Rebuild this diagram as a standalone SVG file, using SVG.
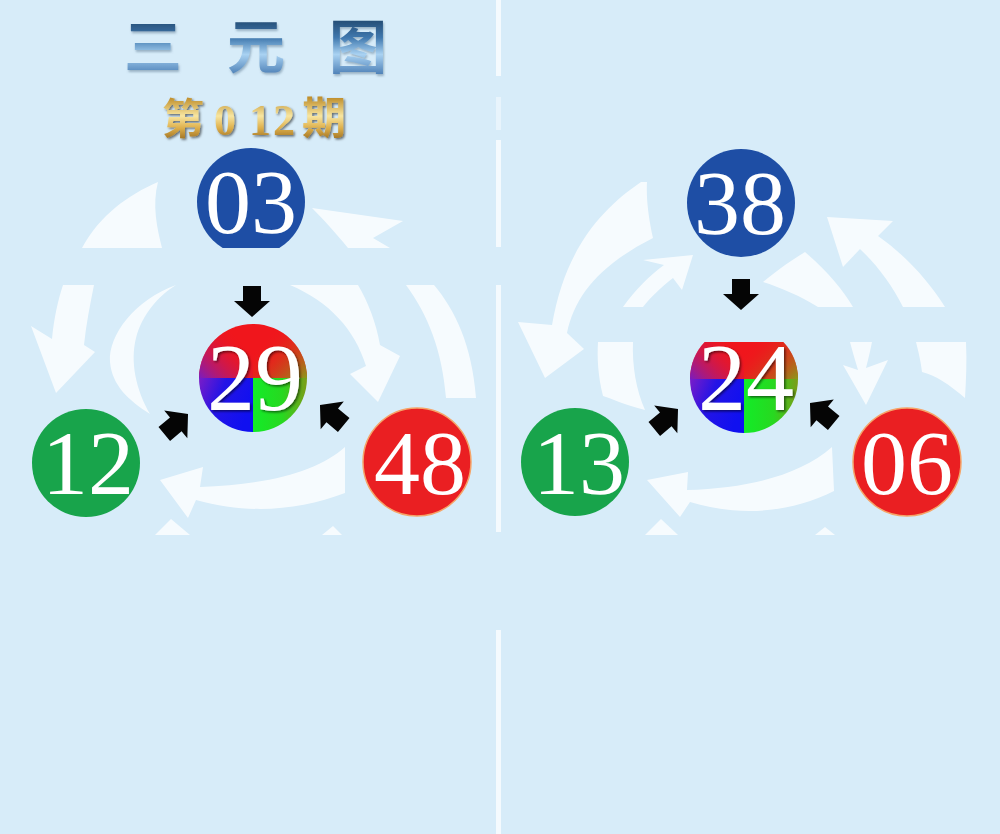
<svg xmlns="http://www.w3.org/2000/svg" width="1000" height="834" viewBox="0 0 1000 834">
<style>
.bg{fill:#d7ecf9}
.sep{fill:#f4fafe}
.wa{fill:#ffffff;opacity:0.78}
.num{font-family:"Liberation Serif","Times New Roman",serif;fill:#ffffff;text-anchor:middle}
.ball{stroke:none}
.blue{fill:#1e4ea5}
.green{fill:#18a44b}
.red{fill:#ea1f22;stroke:#f6a468;stroke-width:1.5}
.blk{fill:#050505}
.title{font-family:"Noto Sans CJK SC","Noto Sans",sans-serif;font-weight:700;font-size:58px;text-anchor:middle;fill:url(#gTitle)}
.issue{font-weight:700;fill:url(#gGold)}
</style>
<defs>
<linearGradient id="gTitle" gradientUnits="userSpaceOnUse" x1="0" y1="18" x2="0" y2="74">
<stop offset="0" stop-color="#22486e"/>
<stop offset="0.35" stop-color="#3f78ae"/>
<stop offset="0.65" stop-color="#a9d2f2"/>
<stop offset="1" stop-color="#4f82b8"/>
</linearGradient>
<linearGradient id="gGold" gradientUnits="userSpaceOnUse" x1="0" y1="98" x2="0" y2="138">
<stop offset="0" stop-color="#c0902e"/>
<stop offset="0.45" stop-color="#f8e6a0"/>
<stop offset="0.75" stop-color="#deb04c"/>
<stop offset="1" stop-color="#a77a28"/>
</linearGradient>
<linearGradient id="gTL" x1="1" y1="0" x2="0" y2="1">
<stop offset="0.25" stop-color="#f0161c" stop-opacity="0"/>
<stop offset="1" stop-color="#7a1cc0"/>
</linearGradient>
<linearGradient id="gTR" x1="0" y1="0" x2="1" y2="1">
<stop offset="0.25" stop-color="#f0161c" stop-opacity="0"/>
<stop offset="1" stop-color="#8a9a1a"/>
</linearGradient>
<linearGradient id="gBL" x1="0" y1="0" x2="1" y2="0.4">
<stop offset="0" stop-color="#7a1cc8"/>
<stop offset="0.45" stop-color="#2414e6"/>
<stop offset="1" stop-color="#1010f0"/>
</linearGradient>
<linearGradient id="gBR" x1="0" y1="0" x2="1" y2="0">
<stop offset="0" stop-color="#12ec28"/>
<stop offset="0.55" stop-color="#28d820"/>
<stop offset="1" stop-color="#7c9c18"/>
</linearGradient>
<filter id="sh" x="-10%" y="-10%" width="130%" height="130%">
<feDropShadow dx="1.5" dy="1.5" stdDeviation="1" flood-color="#000" flood-opacity="0.55"/>
</filter>
<filter id="shT" x="-10%" y="-10%" width="130%" height="130%">
<feDropShadow dx="1" dy="2" stdDeviation="1.2" flood-color="#5a7890" flood-opacity="0.5"/>
</filter>
<clipPath id="cutTop"><rect x="0" y="0" width="497" height="248"/></clipPath>
<clipPath id="cutMidR"><rect x="500" y="342" width="500" height="200"/></clipPath>
<clipPath id="c29"><circle cx="253" cy="378" r="54"/></clipPath>
<clipPath id="c24"><circle cx="744" cy="379" r="54"/></clipPath>
<polygon id="arr" points="-14,-9 1,-9 1,-18 17,0 1,18 1,9 -14,9"/>
</defs>

<rect class="bg" x="0" y="0" width="1000" height="834"/>

<g id="separator">
<rect class="sep" x="496" y="0" width="5" height="76"/>
<rect class="sep" x="496" y="97" width="5" height="33" opacity="0.6"/>
<rect class="sep" x="496" y="140" width="5" height="107"/>
<rect class="sep" x="496" y="285" width="5" height="247"/>
<rect class="sep" x="496" y="630" width="5" height="204"/>
</g>

<g id="background-arrows">
<path class="wa" d="M82 248 C100 215 128 195 158 182 C152 205 157 228 162 248 Z"/>
<path class="wa" d="M312 208 L403 221 L373 238 L390 248 L348 248 C335 232 322 218 312 208 Z"/>
<path class="wa" d="M63 285 L94 285 C90 305 86 325 84 345 L95 352 L56 393 L31 326 L52 339 C54 318 58 300 63 285 Z"/>
<path class="wa" d="M176 285 C135 300 108 335 110 362 C112 385 128 400 150 414 C136 390 130 362 136 338 C142 315 158 296 176 285 Z"/>
<path class="wa" d="M290 285 L358 285 C368 302 376 322 380 345 L400 356 L378 402 L350 374 L366 366 C355 330 330 302 290 285 Z"/>
<path class="wa" d="M406 285 L434 285 C455 310 472 345 476 398 L446 398 C442 350 428 315 406 285 Z"/>
<path class="wa" d="M345 447 C320 470 270 485 200 487 L203 467 L160 480 L188 518 L196 500 C250 515 300 510 345 493 Z"/>
<path class="wa" d="M155 535 L171 519 L190 535 Z"/>
<path class="wa" d="M322 535 L333 526 L342 535 Z"/>

<path class="wa" d="M641 182 C600 210 565 250 552 325 L518 322 L545 378 L584 349 L567 333 C575 295 600 265 653 238 C649 220 646 200 647 182 Z"/>
<path class="wa" d="M623 307 C635 290 650 275 664 265 L643 260 L693 255 L682 290 L673 278 C660 288 650 298 643 307 Z"/>
<path class="wa" d="M827 217 L893 221 L878 236 C905 255 928 280 945 307 L903 307 C892 285 877 265 860 249 L843 267 Z"/>
<path class="wa" d="M763 282 C780 268 795 258 805 252 C828 272 843 290 853 307 L818 307 C800 296 782 288 763 282 Z"/>
<path class="wa" d="M598 342 L633 342 C632 365 636 390 645 410 C625 405 610 398 603 396 C598 376 597 358 598 342 Z"/>
<path class="wa" d="M850 342 L872 342 C870 352 868 360 866 368 L888 360 L866 405 L843 365 L858 370 C855 360 852 350 850 342 Z"/>
<path class="wa" d="M916 342 L966 342 C967 362 966 380 965 398 C950 385 935 375 922 372 C921 362 918 350 916 342 Z"/>
<path class="wa" d="M832 447 C800 475 750 488 687 490 L688 472 L647 480 L680 517 L690 502 C740 517 790 513 834 491 Z"/>
<path class="wa" d="M645 535 L661 519 L678 535 Z"/>
<path class="wa" d="M815 535 L825 527 L835 535 Z"/>
</g>

<g id="title" filter="url(#shT)">
<text class="title" x="153" y="68">三</text>
<text class="title" x="256" y="68">元</text>
<text class="title" x="358" y="68">图</text>
</g>

<g id="issue" filter="url(#sh)">
<text class="issue" y="134"><tspan x="162" font-family="Noto Sans CJK SC, sans-serif" font-size="42">第</tspan><tspan x="214" y="135" font-family="Liberation Serif, serif" font-size="44">0</tspan><tspan x="249" y="135" font-family="Liberation Serif, serif" font-size="44">1</tspan><tspan x="273" y="135" font-family="Liberation Serif, serif" font-size="44">2</tspan><tspan x="302" y="134" font-family="Noto Sans CJK SC, sans-serif" font-size="44">期</tspan></text>
</g>

<g id="connectors">
<use href="#arr" class="blk" transform="translate(252,300) rotate(90)"/>
<use href="#arr" class="blk" transform="translate(175,425) rotate(-40)"/>
<use href="#arr" class="blk" transform="translate(333,416) rotate(-140)"/>
<use href="#arr" class="blk" transform="translate(741,293) rotate(90)"/>
<use href="#arr" class="blk" transform="translate(665,420) rotate(-40)"/>
<use href="#arr" class="blk" transform="translate(823,414) rotate(-140)"/>
</g>

<g id="node-03">
<circle class="ball blue" cx="251" cy="202" r="54" clip-path="url(#cutTop)"/>
<text class="num" x="251" y="233" font-size="92">03</text>
</g>

<g id="node-29">
<g clip-path="url(#c29)">
<rect x="199" y="324" width="108" height="54" fill="#f0161c"/>
<rect x="199" y="324" width="54" height="54" fill="url(#gTL)"/>
<rect x="253" y="324" width="54" height="54" fill="url(#gTR)"/>
<rect x="199" y="378" width="54" height="54" fill="url(#gBL)"/>
<rect x="253" y="378" width="54" height="54" fill="url(#gBR)"/>
</g>
<text class="num" x="255" y="410" font-size="96" filter="url(#sh)">29</text>
</g>

<g id="node-12">
<circle class="ball green" cx="86" cy="463" r="54"/>
<text class="num" x="88" y="494" font-size="92">12</text>
</g>

<g id="node-48">
<circle class="red" cx="417" cy="462" r="54"/>
<text class="num" x="420" y="494" font-size="92">48</text>
</g>

<g id="node-38">
<circle class="ball blue" cx="741" cy="203" r="54"/>
<text class="num" x="740" y="234" font-size="92">38</text>
</g>

<g id="node-24">
<g clip-path="url(#cutMidR)">
<g clip-path="url(#c24)">
<rect x="690" y="325" width="108" height="54" fill="#f0161c"/>
<rect x="690" y="325" width="54" height="54" fill="url(#gTL)"/>
<rect x="744" y="325" width="54" height="54" fill="url(#gTR)"/>
<rect x="690" y="379" width="54" height="54" fill="url(#gBL)"/>
<rect x="744" y="379" width="54" height="54" fill="url(#gBR)"/>
</g>
</g>
<text class="num" x="746" y="410" font-size="96" filter="url(#sh)">24</text>
</g>

<g id="node-13">
<circle class="ball green" cx="575" cy="462" r="54"/>
<text class="num" x="579" y="494" font-size="92">13</text>
</g>

<g id="node-06">
<circle class="red" cx="907" cy="462" r="54"/>
<text class="num" x="907" y="494" font-size="92">06</text>
</g>
</svg>
